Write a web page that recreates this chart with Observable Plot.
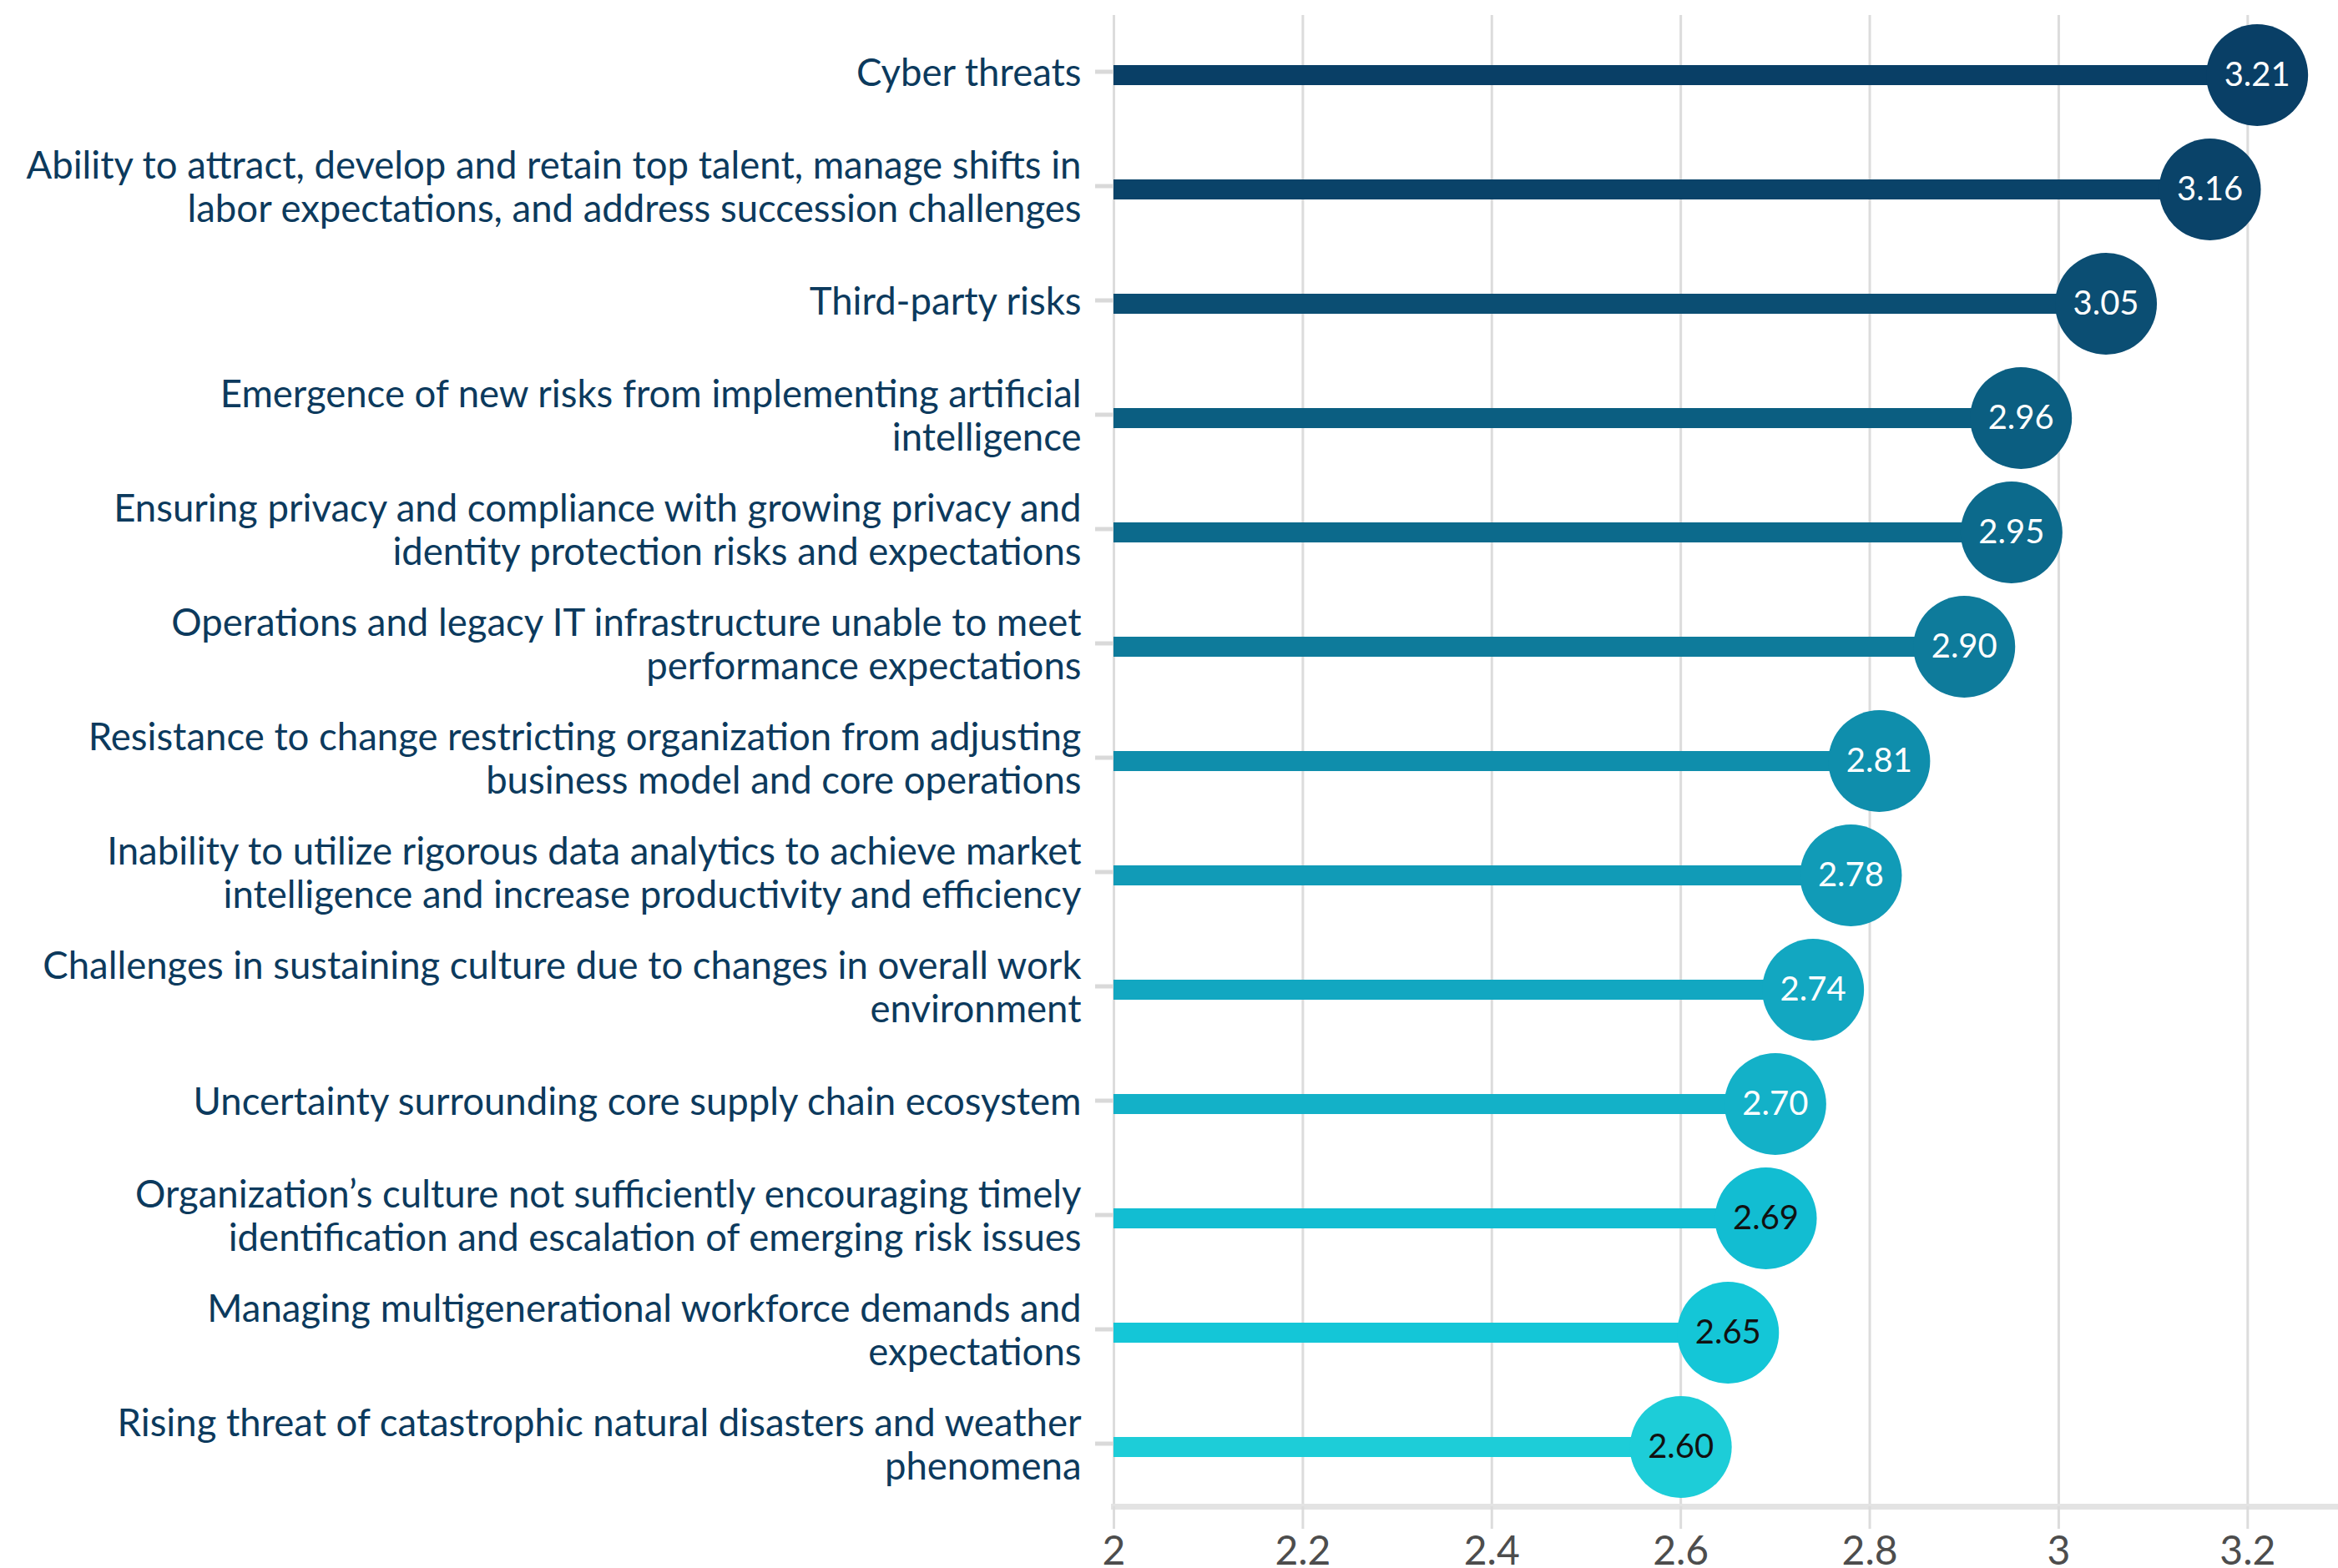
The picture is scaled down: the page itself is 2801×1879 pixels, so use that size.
<!DOCTYPE html>
<html><head><meta charset="utf-8">
<script src="https://cdn.jsdelivr.net/npm/d3@7"></script>
<script src="https://cdn.jsdelivr.net/npm/@observablehq/plot@0.6"></script>
<style>body{margin:0;background:#fff;} svg{display:block;}</style>
</head><body><div id="chart"></div>
<script>
const categories = [
  "Cyber threats",
  "Ability to attract, develop and retain top talent, manage shifts in\nlabor expectations, and address succession challenges",
  "Third-party risks",
  "Emergence of new risks from implementing artificial\nintelligence",
  "Ensuring privacy and compliance with growing privacy and\nidentity protection risks and expectations",
  "Operations and legacy IT infrastructure unable to meet\nperformance expectations",
  "Resistance to change restricting organization from adjusting\nbusiness model and core operations",
  "Inability to utilize rigorous data analytics to achieve market\nintelligence and increase productivity and efficiency",
  "Challenges in sustaining culture due to changes in overall work\nenvironment",
  "Uncertainty surrounding core supply chain ecosystem",
  "Organization\u2019s culture not sufficiently encouraging timely\nidentification and escalation of emerging risk issues",
  "Managing multigenerational workforce demands and\nexpectations",
  "Rising threat of catastrophic natural disasters and weather\nphenomena"
];
const values = [3.21, 3.16, 3.05, 2.96, 2.95, 2.90, 2.81, 2.78, 2.74, 2.70, 2.69, 2.65, 2.60];
const xTicks = [2, 2.2, 2.4, 2.6, 2.8, 3, 3.2];
const palette = ["#093f66", "#0a4369", "#0b4e73", "#0b5e81", "#0c6a8c", "#0e7b9b", "#0f8eac", "#119bb7", "#12a7c1", "#13b1c8", "#12bdd2", "#14c6d7", "#1dcdd8"];

const data = categories.map((c, i) => ({label: c, value: values[i], color: palette[i]}));

const chart = Plot.plot({
  width: 2801,
  height: 1879,
  marginLeft: 1334,
  marginRight: 0,
  marginTop: 18,
  marginBottom: 74,
  style: {fontFamily: "Lato, sans-serif", background: "#fff", overflow: "visible"},
  x: {domain: [2, 3.296]},
  y: {type: "band", domain: categories, padding: 0},
  color: {type: "identity"},
  marks: [
    Plot.gridX(xTicks, {stroke: "#dcdcdc", strokeOpacity: 1, strokeWidth: 3}),
    Plot.frame({anchor: "bottom", stroke: "#e3e3e3", strokeWidth: 7}),
    Plot.axisX(xTicks, {tickSize: 27, tickPadding: 8, fontSize: 48, fill: "#4d4d4d", stroke: "#dcdcdc", strokeWidth: 3, tickFormat: d => String(d), label: null}),
    Plot.axisY({tickSize: 22, tickPadding: 17, dy: -4, fontSize: 45.5, lineHeight: 1.14, fill: "#0c3a5d", stroke: "#d9d9d9", strokeWidth: 5, label: null}),
    Plot.ruleY(data, {y: "label", x1: 2, x2: "value", stroke: "color", strokeWidth: 24}),
    Plot.dot(data, {y: "label", x: "value", r: 61, fill: "color", stroke: null}),
    Plot.text(data, {y: "label", x: "value", text: d => d.value.toFixed(2), fill: d => d.value >= 2.7 ? "#ffffff" : "#111111", fontSize: 40})
  ]
});
document.getElementById("chart").appendChild(chart);
</script>
</body></html>
